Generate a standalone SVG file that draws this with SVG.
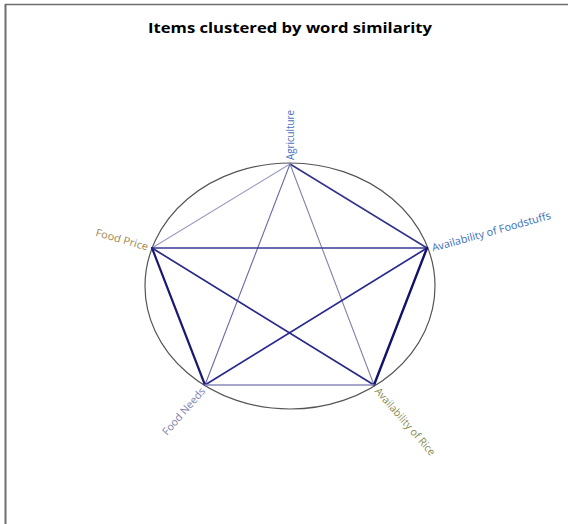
<svg xmlns="http://www.w3.org/2000/svg" width="568" height="524" viewBox="0 0 568 524">
<style>
.lbl{font-family:"Open Sans","Liberation Sans",Arial,sans-serif;font-size:10.5px}
.title{font-family:"Open Sans","Liberation Sans",Arial,sans-serif;font-size:15px;font-weight:bold;fill:#000}
.e{fill:none;stroke-linecap:round}
</style>
<rect x="0" y="0" width="568" height="524" fill="#fff"/>
<g id="frame">
<line x1="5.5" y1="4" x2="5.5" y2="524" stroke="#6e6e6e" stroke-width="2"/>
<line x1="5" y1="4.5" x2="568" y2="4.5" stroke="#6e6e6e" stroke-width="1.5"/>
</g>
<text class="title" x="290" y="33" text-anchor="middle" textLength="284" lengthAdjust="spacingAndGlyphs">Items clustered by word similarity</text>
<ellipse cx="290" cy="286" rx="145" ry="123" fill="none" stroke="#555" stroke-width="1.2"/>
<g id="connectors">
<line class="e" x1="290" y1="164" x2="427" y2="248" stroke="#34348c" stroke-width="1.6"/>
<line class="e" x1="290" y1="164" x2="152" y2="248" stroke="#9a9ac4" stroke-width="1.1"/>
<line class="e" x1="290" y1="164" x2="205" y2="385" stroke="#6a6aa8" stroke-width="1.1"/>
<line class="e" x1="290" y1="164" x2="374" y2="385" stroke="#8282aa" stroke-width="1.1"/>
<line class="e" x1="152" y1="248" x2="427" y2="248" stroke="#3a3a98" stroke-width="1.6"/>
<line class="e" x1="152" y1="248" x2="205" y2="385" stroke="#1a1a70" stroke-width="2.2"/>
<line class="e" x1="152" y1="248" x2="374" y2="385" stroke="#2a2a88" stroke-width="1.7"/>
<line class="e" x1="427" y1="248" x2="205" y2="385" stroke="#2a2a90" stroke-width="1.7"/>
<line class="e" x1="427" y1="248" x2="374" y2="385" stroke="#12126a" stroke-width="2.4"/>
<line class="e" x1="205" y1="385" x2="374" y2="385" stroke="#8a8ab8" stroke-width="1.3"/>
</g>
<g id="node-agriculture">
<text class="lbl" fill="#4a6ec0" transform="translate(290,160) rotate(-90)" dy="0.35em" textLength="50" lengthAdjust="spacingAndGlyphs">Agriculture</text>
</g>
<g id="node-foodstuffs">
<text class="lbl" fill="#3a70b8" transform="translate(432,248) rotate(-15.5)" dy="0.35em" textLength="123" lengthAdjust="spacingAndGlyphs">Availability of Foodstuffs</text>
</g>
<g id="node-foodprice">
<text class="lbl" fill="#a08850" text-anchor="end" transform="translate(148,247) rotate(16)" dy="0.35em" textLength="54" lengthAdjust="spacingAndGlyphs">Food Price</text>
</g>
<g id="node-foodneeds">
<text class="lbl" fill="#8080b0" text-anchor="end" transform="translate(203,389) rotate(-49)" dy="0.35em" textLength="59" lengthAdjust="spacingAndGlyphs">Food Needs</text>
</g>
<g id="node-rice">
<text class="lbl" fill="#8a8a50" transform="translate(377,389) rotate(49)" dy="0.35em" textLength="86" lengthAdjust="spacingAndGlyphs">Availability of Rice</text>
</g>
</svg>
